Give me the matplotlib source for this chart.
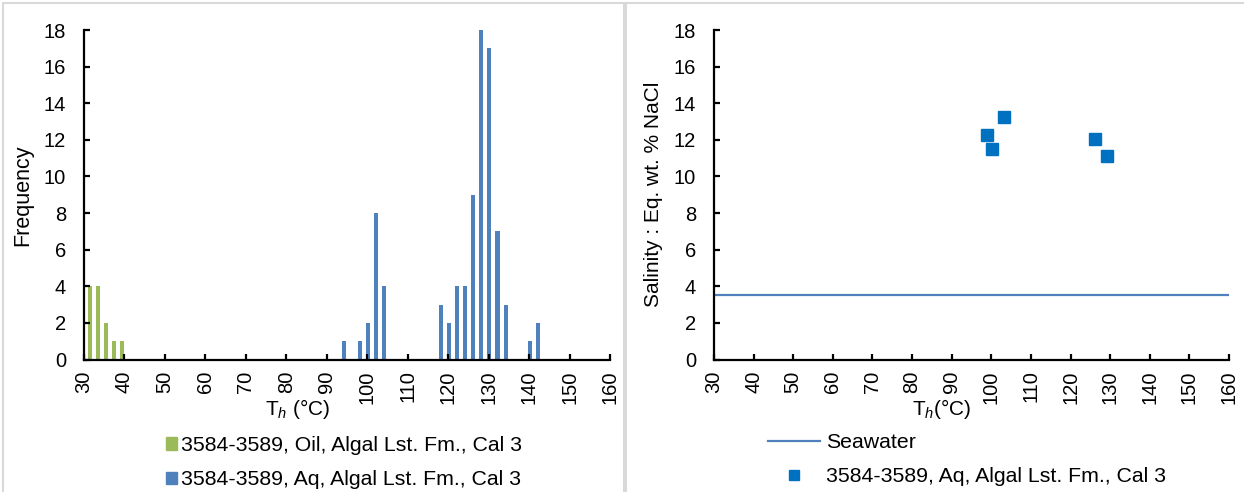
import matplotlib
matplotlib.use("Agg")
import matplotlib.pyplot as plt
from matplotlib.patches import Patch, Rectangle
from matplotlib.lines import Line2D

plt.rcParams["font.family"] = ["Liberation Sans", "DejaVu Sans"]
plt.rcParams["font.size"] = 14.5
plt.rcParams["mathtext.fontset"] = "custom"
plt.rcParams["mathtext.rm"] = "Liberation Sans"
plt.rcParams["mathtext.it"] = "Liberation Sans:italic"

# histogram of homogenisation temperatures (bin position, count)
oil_th = [31.4, 33.4, 35.4, 37.4, 39.4]
oil_count = [4, 4, 2, 1, 1]
aq_th = [94.2, 98.2, 100.2, 102.2, 104.2, 118.2, 120.2, 122.2, 124.2,
         126.2, 128.2, 130.2, 132.2, 134.2, 140.2, 142.2]
aq_count = [1, 1, 2, 8, 4, 3, 2, 4, 4, 9, 18, 17, 7, 3, 1, 2]

# salinity vs Th
sal_th = [103.1, 99.0, 100.3, 126.3, 129.3]
sal_wt = [13.25, 12.25, 11.5, 12.05, 11.1]
seawater = 3.5

oil_label = "3584-3589, Oil, Algal Lst. Fm., Cal 3"
aq_label = "3584-3589, Aq, Algal Lst. Fm., Cal 3"

green = "#9BBB59"
blue = "#4F81BD"
dark_blue = "#0070C0"

W, H = 1244, 492
fig = plt.figure(figsize=(W / 100, H / 100), dpi=100)


def px_axes(x0, x1, y_top, y_bot):
    return fig.add_axes([x0 / W, 1 - y_bot / H, (x1 - x0) / W, (y_bot - y_top) / H])


def style_axes(ax):
    for side in ["top", "right"]:
        ax.spines[side].set_visible(False)
    for side in ["left", "bottom"]:
        ax.spines[side].set_linewidth(1.6)
    ax.set_xlim(30, 160)
    ax.set_ylim(0, 18)
    ax.set_xticks(range(30, 161, 10))
    ax.set_yticks(range(0, 19, 2))
    ax.tick_params(axis="both", direction="in", length=4, width=1.6, labelsize=14.5)
    ax.tick_params(axis="x", pad=8, labelrotation=90)
    ax.tick_params(axis="y", pad=13)


# chart area frames
for x0, x1 in [(3, 624), (626, 1250)]:
    fig.add_artist(Rectangle((x0 / W, -0.5), (x1 - x0) / W, 1.5 - 3 / H,
                             transform=fig.transFigure, fill=False,
                             edgecolor="#D9D9D9", lw=1.5))

# left: histogram
ax1 = px_axes(84, 610, 30, 359.5)
ax1.bar(oil_th, oil_count, width=1.0, color=green)
ax1.bar(aq_th, aq_count, width=1.0, color=blue)
style_axes(ax1)
ax1.set_ylabel("Frequency", fontsize=15.5)
ax1.yaxis.set_label_coords(-0.097, 0.5)
fig.text(298 / W, 1 - 409 / H, r"T$_{\mathit{h}}$ (°C)", ha="center", va="center", fontsize=15)
fig.legend(handles=[Patch(color=green, label=oil_label), Patch(color=blue, label=aq_label)],
           loc="upper left", bbox_to_anchor=(166 / W, 1 - 436 / H), frameon=False,
           borderpad=0, borderaxespad=0, handlelength=0.52, handleheight=0.52,
           handletextpad=0.19, labelspacing=0.72, fontsize=15.3)

# right: salinity
ax2 = px_axes(714, 1229, 30, 359.5)
ax2.axhline(seawater, color=blue, lw=1.6)
ax2.plot(sal_th, sal_wt, "s", color=dark_blue, markersize=8, linestyle="none")
style_axes(ax2)
ax2.set_ylabel("Salinity : Eq. wt. % NaCl", fontsize=15)
ax2.yaxis.set_label_coords(-0.099, 0.5)
fig.text(942 / W, 1 - 409 / H, r"T$_{\mathit{h}}$(°C)", ha="center", va="center", fontsize=15)
fig.legend(handles=[Line2D([], [], color=blue, lw=1.6, label="Seawater"),
                    Line2D([], [], color=dark_blue, marker="s", markersize=7.5,
                           linestyle="none", label=aq_label)],
           loc="upper left", bbox_to_anchor=(768 / W, 1 - 433 / H), frameon=False,
           borderpad=0, borderaxespad=0, handlelength=2.45,
           handletextpad=0.28, labelspacing=0.72, fontsize=15.3)

fig.savefig("out.png", dpi=100)
